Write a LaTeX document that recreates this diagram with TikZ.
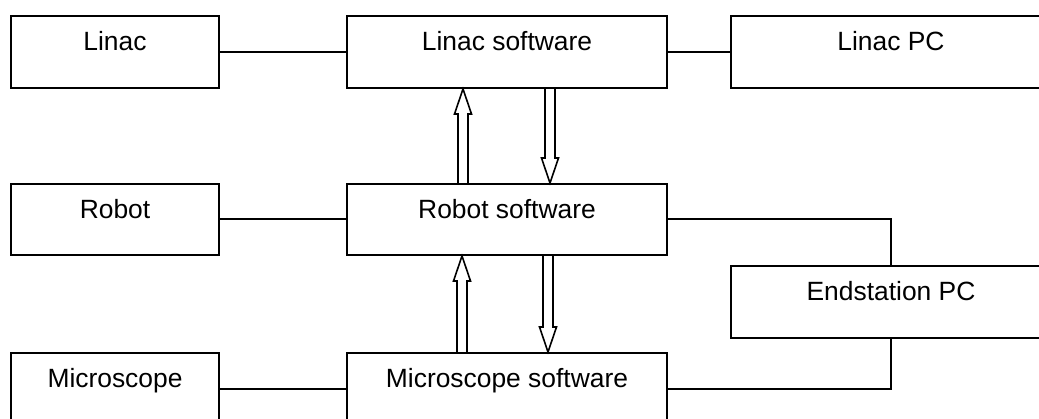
\documentclass[tikz,border=0pt]{standalone}
\usepackage{fontspec}
\setmainfont{Liberation Sans}
\usetikzlibrary{calc}
\newcommand\boxfont{\fontsize{26.4}{30}\selectfont}
\tikzset{
  box/.style={draw, line width=2pt, minimum width=#1, minimum height=72pt,
    anchor=north west, inner sep=0pt},
  txt/.style={label={[anchor=base, yshift=-36pt, font=\boxfont, inner sep=0pt]north:#1}},
  conn/.style={line width=2pt},
  hollow/.style={line width=1.6pt, line join=miter},
}
\newcommand\hollowup[2]{%
  \draw[hollow] ($(#1)+(-5,0)$) -- ($(#2)+(-5,25)$) -- ($(#2)+(-8.5,25)$) -- (#2)
    -- ($(#2)+(8.5,25)$) -- ($(#2)+(5,25)$) -- ($(#1)+(5,0)$);}
\newcommand\hollowdown[2]{%
  \draw[hollow] ($(#1)+(-5,0)$) -- ($(#2)+(-5,-25)$) -- ($(#2)+(-8.5,-25)$) -- (#2)
    -- ($(#2)+(8.5,-25)$) -- ($(#2)+(5,-25)$) -- ($(#1)+(5,0)$);}
\begin{document}
\begin{tikzpicture}[x=1pt, y=-1pt]
  \clip (0,0) rectangle (1039,419);
  \fill[white] (0,0) rectangle (1039,419);
  \node[box=208pt, txt=Linac] (linac) at (10,15) {};
  \node[box=320pt, txt=Linac software] (ls) at (346,15) {};
  \node[box=320pt, txt=Linac PC] (lpc) at (730,15) {};
  \node[box=208pt, minimum height=71pt, txt=Robot] (robot) at (10,183) {};
  \node[box=320pt, minimum height=71pt, txt=Robot software] (rs) at (346,183) {};
  \node[box=320pt, txt=Endstation PC] (es) at (730,265) {};
  \node[box=208pt, txt=Microscope] (mic) at (10,352) {};
  \node[box=320pt, txt=Microscope software] (ms) at (346,352) {};

  \draw[conn] (linac.east) -- (ls.west);
  \draw[conn] (ls.east) -- (lpc.west);
  \draw[conn] (robot.east) -- (rs.west);
  \draw[conn] (mic.east) -- (ms.west);
  \draw[conn] (rs.east) -| (es.north);
  \draw[conn] (ms.east) -| (es.south);

  \coordinate (xa) at (463,0);
  \coordinate (xb) at (550,0);
  \coordinate (xc) at (462,0);
  \coordinate (xd) at (548,0);
  \coordinate (a1b) at (xa |- rs.north);
  \coordinate (a1t) at (xa |- ls.south);
  \coordinate (a2t) at (xb |- ls.south);
  \coordinate (a2b) at (xb |- rs.north);
  \coordinate (a3b) at (xc |- ms.north);
  \coordinate (a3t) at (xc |- rs.south);
  \coordinate (a4t) at (xd |- rs.south);
  \coordinate (a4b) at (xd |- ms.north);
  \hollowup{a1b}{a1t}
  \hollowdown{a2t}{a2b}
  \hollowup{a3b}{a3t}
  \hollowdown{a4t}{a4b}
\end{tikzpicture}
\end{document}
